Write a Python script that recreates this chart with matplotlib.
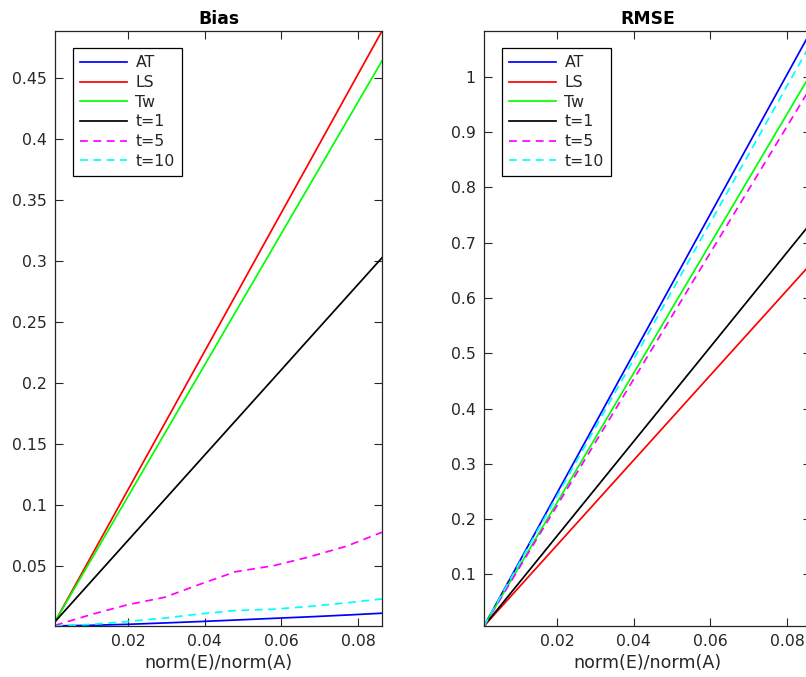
import matplotlib
matplotlib.use("Agg")
import matplotlib.pyplot as plt
from matplotlib.ticker import FormatStrFormatter

# noise level norm(E)/norm(A)
x = [0.001, 0.0105, 0.020, 0.0295, 0.039, 0.048, 0.058, 0.067, 0.077, 0.0862]

# Bias curves
bias_AT = [0.0006, 0.0011, 0.0019, 0.0030, 0.0042, 0.0054, 0.0068, 0.0080, 0.0095, 0.0110]
bias_LS = [0.004, 0.058, 0.1121, 0.1661, 0.2201, 0.2713, 0.3282, 0.3793, 0.4362, 0.4885]
bias_Tw = [0.004, 0.0553, 0.1066, 0.1579, 0.2092, 0.2578, 0.3117, 0.3603, 0.4143, 0.464]
bias_t1 = [0.004, 0.0373, 0.0706, 0.1039, 0.1372, 0.1687, 0.2037, 0.2353, 0.2703, 0.3025]
bias_t5 = [0.001, 0.010, 0.018, 0.024, 0.035, 0.045, 0.050, 0.057, 0.066, 0.0774]
bias_t10 = [0.0005, 0.0018, 0.0042, 0.0070, 0.0105, 0.0132, 0.0143, 0.0165, 0.0195, 0.0227]

# RMSE curves
rmse_AT = [0.0065, 0.1265, 0.2467, 0.3667, 0.4868, 0.6005, 0.7269, 0.8406, 0.9670, 1.083]
rmse_LS = [0.0065, 0.0796, 0.1527, 0.2258, 0.2989, 0.3681, 0.4451, 0.5143, 0.5912, 0.662]
rmse_Tw = [0.0065, 0.1179, 0.2294, 0.3408, 0.4523, 0.5579, 0.6752, 0.7807, 0.8981, 1.006]
rmse_t1 = [0.0065, 0.0878, 0.1692, 0.2505, 0.3319, 0.4089, 0.4945, 0.5716, 0.6572, 0.736]
rmse_t5 = [0.0065, 0.1153, 0.2241, 0.3328, 0.4416, 0.5447, 0.6592, 0.7622, 0.8767, 0.982]
rmse_t10 = [0.0065, 0.1241, 0.2417, 0.3592, 0.4768, 0.5882, 0.7120, 0.8234, 0.9472, 1.061]

labels = ["AT", "LS", "Tw", "t=1", "t=5", "t=10"]
colors = ["#0000ff", "#ff0000", "#00ff00", "#000000", "#ff00ff", "#00ffff"]
styles = ["-", "-", "-", "-", "--", "--"]

xticks = [0.02, 0.04, 0.06, 0.08]
bias_yticks = [0.05, 0.1, 0.15, 0.2, 0.25, 0.3, 0.35, 0.4, 0.45]
rmse_yticks = [0.1, 0.2, 0.3, 0.4, 0.5, 0.6, 0.7, 0.8, 0.9, 1.0]

axcol = "#262626"
plt.rcParams["font.family"] = "DejaVu Sans"

fig = plt.figure(figsize=(8.06, 6.77), dpi=100)
ax1 = fig.add_axes([0.0682, 0.0753, 0.4057, 0.8789])
ax2 = fig.add_axes([0.6005, 0.0753, 0.4057, 0.8789])


def draw_panel(ax, series, title, yticks):
    for ys, lab, c, ls in zip(series, labels, colors, styles):
        line, = ax.plot(x, ys, color=c, linestyle=ls, lw=1.25, label=lab)
        if ls == "--":
            line.set_dashes((4.5, 3.2))
    lo = min(min(s) for s in series)
    hi = max(max(s) for s in series)
    ax.set_xlim(x[0], x[-1])
    ax.set_ylim(lo, hi)
    ax.set_xticks(xticks)
    ax.set_yticks(yticks)
    ax.xaxis.set_major_formatter(FormatStrFormatter("%g"))
    ax.yaxis.set_major_formatter(FormatStrFormatter("%g"))
    ax.tick_params(direction="in", top=True, right=True, length=5.5,
                   width=0.8, color=axcol, labelcolor=axcol, labelsize=11.3, pad=6)
    for sp in ax.spines.values():
        sp.set_color(axcol)
        sp.set_linewidth(0.9)
    ax.set_title(title, fontsize=12.4, fontweight="bold", color="black", pad=5)
    ax.set_xlabel("norm(E)/norm(A)", fontsize=12.6, color=axcol, labelpad=3)
    leg = ax.legend(loc="upper left", bbox_to_anchor=(0.054, 0.971), borderaxespad=0,
                    fontsize=11.3, handlelength=3.0, handletextpad=0.55,
                    labelspacing=0.3, borderpad=0.45, fancybox=False, framealpha=1)
    leg.get_frame().set_edgecolor("black")
    leg.get_frame().set_linewidth(0.9)
    for t in leg.get_texts():
        t.set_color(axcol)


draw_panel(ax1, [bias_AT, bias_LS, bias_Tw, bias_t1, bias_t5, bias_t10], "Bias", bias_yticks)
draw_panel(ax2, [rmse_AT, rmse_LS, rmse_Tw, rmse_t1, rmse_t5, rmse_t10], "RMSE", rmse_yticks)

fig.savefig("out.png", dpi=100)
